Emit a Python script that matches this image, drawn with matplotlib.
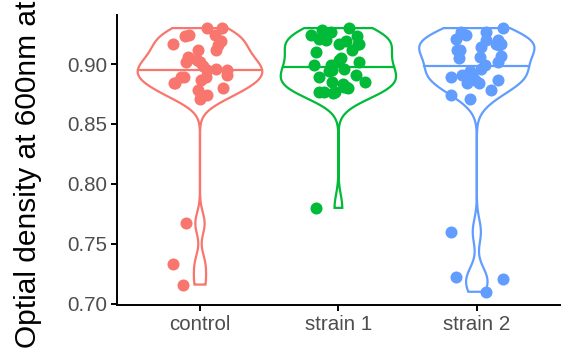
import numpy as np
import matplotlib
matplotlib.use("Agg")
from matplotlib import pyplot as plt

plt.rcParams['font.family'] = ['Liberation Sans', 'DejaVu Sans']

groups = ["control", "strain 1", "strain 2"]
colors = ["#F8766D", "#00BA38", "#619CFF"]

control = [0.930, 0.930, 0.924, 0.923, 0.924, 0.919, 0.917, 0.916, 0.912, 0.912,
           0.905, 0.906, 0.902, 0.903, 0.902, 0.898, 0.895, 0.896, 0.895, 0.891,
           0.889, 0.889, 0.889, 0.884, 0.884, 0.887, 0.878, 0.880, 0.874, 0.873,
           0.871, 0.767, 0.733, 0.716]
strain1 = [0.930, 0.928, 0.927, 0.924, 0.923, 0.921, 0.920, 0.917, 0.917, 0.917,
           0.919, 0.912, 0.910, 0.905, 0.903, 0.902, 0.899, 0.896, 0.899, 0.895,
           0.894, 0.889, 0.891, 0.885, 0.885, 0.883, 0.881, 0.881, 0.880, 0.877,
           0.877, 0.877, 0.876, 0.780]
strain2 = [0.930, 0.927, 0.927, 0.924, 0.920, 0.920, 0.921, 0.917, 0.917, 0.916,
           0.914, 0.912, 0.912, 0.907, 0.906, 0.905, 0.902, 0.899, 0.896, 0.894,
           0.891, 0.891, 0.889, 0.887, 0.887, 0.884, 0.884, 0.878, 0.874, 0.871,
           0.760, 0.722, 0.721, 0.710]
yticks = [0.70, 0.75, 0.80, 0.85, 0.90]
ylabel = "Optial density at 600nm at"

data = [np.array(control), np.array(strain1), np.array(strain2)]


def bw_nrd0(x):
    sd = np.std(x, ddof=1)
    iqr = np.subtract(*np.percentile(x, [75, 25]))
    lo = min(sd, iqr / 1.34)
    return 0.9 * lo * len(x) ** -0.2


def density(x, n=512):
    grid = np.linspace(x.min(), x.max(), n)
    bw = bw_nrd0(x)
    z = (grid[:, None] - x[None, :]) / bw
    d = np.exp(-0.5 * z ** 2).sum(axis=1) / (len(x) * bw * np.sqrt(2 * np.pi))
    return grid, d


dens = [density(x) for x in data]
dmax = max(d.max() for _, d in dens)

fig = plt.figure(figsize=(5.76, 3.55), dpi=100)
ax = fig.add_axes([0.203, 0.141, 0.769, 0.817])

rng = np.random.default_rng(7)
for i, (x, (grid, d), col) in enumerate(zip(data, dens, colors)):
    pos = i + 1
    w = d / dmax * 0.45
    xs = np.concatenate([pos - w, (pos + w)[::-1]])
    ys = np.concatenate([grid, grid[::-1]])
    ax.fill(xs, ys, facecolor="white", edgecolor=col, lw=1.6, zorder=2)
    # median from the density, the way ggplot draws draw_quantiles
    cum = np.cumsum(d)
    cum = cum / cum[-1]
    med = np.interp(0.5, cum, grid)
    wm = np.interp(med, grid, w)
    ax.plot([pos - wm, pos + wm], [med, med], color=col, lw=1.6, zorder=2)
    jit = rng.uniform(-0.2, 0.2, len(x))
    ax.scatter(pos + jit, x, s=75, color=col, lw=0, zorder=3)

ax.set_xlim(0.4, 3.6)
ax.set_ylim(0.699, 0.941)
ax.set_xticks([1, 2, 3])
ax.set_xticklabels(groups)
ax.set_yticks(yticks)
ax.set_yticklabels(["%.2f" % t for t in yticks])
for s in ["top", "right"]:
    ax.spines[s].set_visible(False)
for s in ["left", "bottom"]:
    ax.spines[s].set_linewidth(1.4)
ax.tick_params(length=4, width=1.4, labelsize=14.8, labelcolor="#4D4D4D", pad=3)

fig.text(0.049, 0.02, ylabel, rotation=90, ha="center", va="bottom", fontsize=21.5)

fig.savefig("out.png", dpi=100)
